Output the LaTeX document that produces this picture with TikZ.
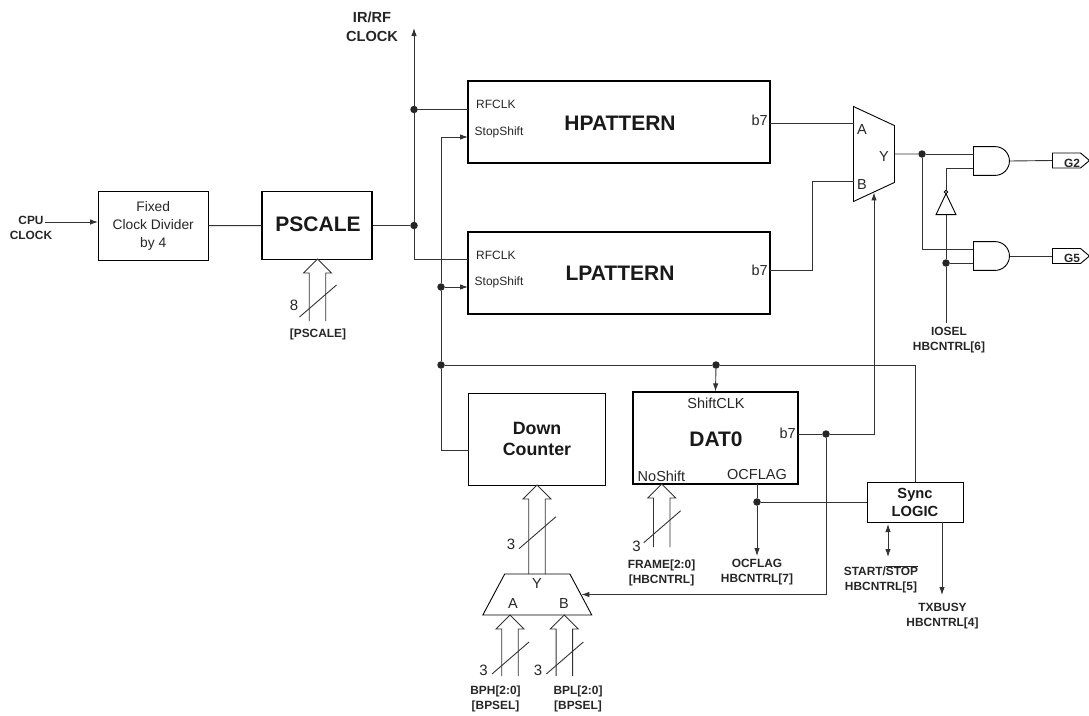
\documentclass[tikz,border=0pt]{standalone}
\usepackage{fontspec}
\setmainfont{Liberation Sans}
\usetikzlibrary{arrows.meta,shapes.geometric,shapes.gates.logic.US,shapes.symbols}
\tikzset{
    blk/.style={draw,rectangle,inner sep=0pt,line width=.9pt},
    thickblk/.style={blk,line width=1.15pt},
    jdot/.style={circle,fill=black!85,inner sep=0pt,minimum size=7.5pt},
    wire/.style={line width=.9pt,draw=black!80},
    arr/.style={wire,-{Latex[length=8pt,width=5.5pt]}},
    darr/.style={wire,{Latex[length=8pt,width=5.5pt]}-{Latex[length=8pt,width=5.5pt]}},
    pin/.style={inner sep=0pt,font=\fontsize{12}{12}\selectfont,text=black!85},
    pinb/.style={inner sep=0pt,font=\fontsize{14.5}{14.5}\selectfont,text=black!85},
    tagtxt/.style={inner sep=0pt,align=center,font=\fontsize{11.9}{15}\selectfont\bfseries,text=black!85},
    title/.style={inner sep=0pt,align=center,font=\fontsize{21}{21}\selectfont\bfseries,text=black!90},
    mux/.style={draw,trapezium,trapezium stretches=true,inner sep=0pt,line width=.9pt},
    andg/.style={and gate US,draw,logic gate inputs=nn,logic gate input sep=5pt,shape aspect=1.29,minimum height=28pt,minimum width=36pt,inner sep=0pt,line width=.9pt,anchor=west},
    outtag/.style={signal,signal to=east,signal pointer angle=80,draw,inner sep=0pt,minimum width=37pt,minimum height=15pt,line width=.9pt,anchor=west}
}
\begin{document}
\begin{tikzpicture}[x=1pt,y=-1pt]
    \useasboundingbox (0,0) rectangle (1089,715);
    \node[blk,minimum width=110pt,minimum height=69pt,align=center,font=\fontsize{13.8}{18}\selectfont,text=black!85](fix) at (153.2,225.7){Fixed\\Clock Divider\\by 4};
    \node[thickblk,minimum width=110pt,minimum height=68pt](psc) at (317,225.5){};
    \node[title] (psct) at (318,224){PSCALE};
    \node[thickblk,minimum width=302pt,minimum height=82pt](hp) at (619,122){};
    \node[title] (hpt) at (620,123){HPATTERN};
    \node[thickblk,minimum width=302pt,minimum height=82pt](lp) at (619,273){};
    \node[title] (lpt) at (620,273){LPATTERN};
    \node[blk,minimum width=137pt,minimum height=92pt](dc) at (537.2,439){};
    \node[title,font=\fontsize{17.8}{21.5}\selectfont\bfseries] (dct) at (537,439){Down\\Counter};
    \node[thickblk,minimum width=165pt,minimum height=92pt](dat) at (715.5,438){};
    \node[title] (datt) at (716,439){DAT0};
    \node[blk,minimum width=96pt,minimum height=40pt](sync) at (915,502){};
    \node[title,font=\fontsize{14.7}{18}\selectfont\bfseries] (synct) at (915,502){Sync\\LOGIC};

    \node[pin,anchor=west](rf1) at (476,104){RFCLK};
    \node[pin,anchor=west](ss1) at (474.5,132){StopShift};
    \node[pin,anchor=west](rf2) at (476,255){RFCLK};
    \node[pin,anchor=west](ss2) at (474.5,282){StopShift};
    \node[pinb,anchor=east](b71) at (768,120){b7};
    \node[pinb,anchor=east](b72) at (768,270){b7};
    \node[pinb,anchor=east](b73) at (796,433){b7};
    \node[pinb](shc) at (716,403){ShiftCLK};
    \node[pinb](nos) at (661.5,476){NoShift};
    \node[pinb](ocf) at (757,475){OCFLAG};

    \node[mux,rotate=-90,minimum width=95pt,minimum height=41pt,trapezium left angle=72,trapezium right angle=72](mr) at (874,154){\phantom{Y}};
    \node[pinb](mra) at (862,130){A};
    \node[pinb](mrb) at (862,185){B};
    \node[pinb](mry) at (884,157){Y};
    \node[mux,minimum width=109pt,minimum height=41pt,trapezium left angle=72,trapezium right angle=72](mb) at (537.3,594.5){\phantom{Y}};
    \node[pinb](mbl) at (513,604){A};
    \node[pinb](mbr) at (564,604){B};
    \node[pinb](mby) at (537,584){Y};

    \node[andg](and1) at (973,161){};
    \node[andg](and2) at (973,256){};
    \node[not gate US,draw,rotate=90,shape aspect=1,minimum width=17pt,minimum height=17pt,inner sep=0pt,line width=.9pt,logic gate inverted radius=1.7pt,anchor=input](inv) at (946,215){};
    \node[outtag](g2) at (1052,160.5){};
    \node[outtag](g5) at (1052,256){};
    \node[tagtxt](g2t) at (1072,163){G2};
    \node[tagtxt](g5t) at (1072,258){G5};

    \node[jdot](jpsc) at (414,225.5){};
    \node[jdot](jrf) at (414,109.5){};
    \node[jdot](jss) at (441,287){};
    \node[jdot](jclk) at (441,365){};
    \node[jdot](jdat) at (716,365){};
    \node[jdot](jb7) at (826,434){};
    \node[jdot](jocf) at (757,502){};
    \node[jdot](jy) at (922,154){};
    \node[jdot](jio) at (946,263){};

    \coordinate (irtop) at (414,28);
    \coordinate (hprf) at (468,109.5);
    \coordinate (lprf) at (468,259);
    \coordinate (hpss) at (468,137);
    \coordinate (lpss) at (468,287);
    \coordinate (dcin) at (468.7,450);
    \coordinate (cpu) at (45,222);
    \coordinate (fixin) at (98,222);
    \coordinate (hpb7) at (770,123);
    \coordinate (lpb7) at (770,270);
    \coordinate (mra1) at (853.5,123);
    \coordinate (mrb1) at (853.5,181);
    \coordinate (datb7) at (798,434);
    \coordinate (iosel) at (946,323);
    \coordinate (syncl) at (867,502);
    \coordinate (ocfb) at (757,484);
    \coordinate (ocfe) at (757,556);
    \coordinate (synctop) at (915,482);
    \coordinate (txs) at (942,522);
    \coordinate (txe) at (942,595);
    \coordinate (sts) at (888,524);
    \coordinate (ste) at (888,557);
    \coordinate (a1i1) at (973,154);
    \coordinate (a1i2) at (973,168);
    \coordinate (a2i1) at (973,249);
    \coordinate (a2i2) at (973,263);

    \draw[arr] (cpu) -- (fixin);
    \draw[wire] (fix) -- (psc);
    \draw[wire] (psc) -- (jpsc);
    \draw[wire] (jpsc) -- (jrf);
    \draw[arr] (jrf) -- (irtop);
    \draw[wire] (jrf) -- (hprf);
    \draw[wire] (jpsc) |- (lprf);
    \draw[arr] (jss) |- (hpss);
    \draw[arr] (jss) -- (lpss);
    \draw[wire] (jss) -- (jclk);
    \draw[wire] (jclk) |- (dcin);
    \draw[wire] (jclk) -- (jdat);
    \draw[arr] (jdat) -- (dat.north);
    \draw[wire] (jdat) -| (synctop);
    \draw[wire] (datb7) -- (jb7);
    \draw[arr] (jb7) -| (mr.east);
    \draw[arr] (jb7) |- (mb.east);
    \draw[wire] (hpb7) -- (mra1);
    \draw[wire] (lpb7) -| (812,181) -- (mrb1);
    \draw[wire] (mr.north) -- (jy);
    \draw[wire] (jy) -- (a1i1);
    \draw[wire] (jy) |- (a2i1);
    \draw[wire] (inv.output) |- (a1i2);
    \draw[wire] (inv.input) -- (jio);
    \draw[wire] (jio) -- (a2i2);
    \draw[wire] (jio) -- (iosel);
    \draw[wire] (and1.output) -- (g2.west);
    \draw[wire] (and2.output) -- (g5.west);
    \draw[wire] (ocfb) -- (jocf);
    \draw[arr] (jocf) -- (ocfe);
    \draw[wire] (jocf) -- (syncl);
    \draw[arr] (txs) -- (txe);
    \draw[darr] (sts) -- (ste);

    \foreach \nm/\cx/\tip/\bot/\sly/\numx/\numy/\num in {
        psc/317.5/259/321/317/294/305/8,
        dc/537/485/574/548.7/511/544/3,
        fr/661.7/484/547/542.7/636.5/546/3,
        bpa/510/615/676/674/483.5/670/3,
        bpb/564.3/615/676/674/538/670/3}{
        \draw[wire,line join=miter] ({\cx-8.25},\bot) -- ({\cx-8.25},{\tip+14}) -- ({\cx-14},{\tip+14}) -- (\cx,\tip) -- ({\cx+14},{\tip+14}) -- ({\cx+8.25},{\tip+14}) -- ({\cx+8.25},\bot);
        \draw[wire] ({\cx-18},\sly) -- ({\cx+19},{\sly-32});
        \node[pinb,font=\fontsize{15}{15}\selectfont](w\nm) at (\numx,\numy){\num};
    }

    \node[tagtxt](cpul) at (31,228){CPU\\CLOCK};
    \node[tagtxt,font=\fontsize{14.6}{19}\selectfont\bfseries](irl) at (372,26.5){IR/RF\\CLOCK};
    \node[tagtxt](pscl) at (318,334){[PSCALE]};
    \node[tagtxt](bphl) at (495.5,698.5){BPH[2:0]\\{[BPSEL]}};
    \node[tagtxt](bpll) at (578,698.5){BPL[2:0]\\{[BPSEL]}};
    \node[tagtxt](frl) at (661.5,572.5){FRAME[2:0]\\{[HBCNTRL]}};
    \node[tagtxt](ocl) at (757,572.5){OCFLAG\\HBCNTRL[7]};
    \node[tagtxt](stl) at (881,579.5){START/$\overline{\mbox{STOP}}$\\HBCNTRL[5]};
    \node[tagtxt](txl) at (942.5,616.5){TXBUSY\\HBCNTRL[4]};
    \node[tagtxt](iol) at (949,340.5){IOSEL\\HBCNTRL[6]};
\end{tikzpicture}
\end{document}
